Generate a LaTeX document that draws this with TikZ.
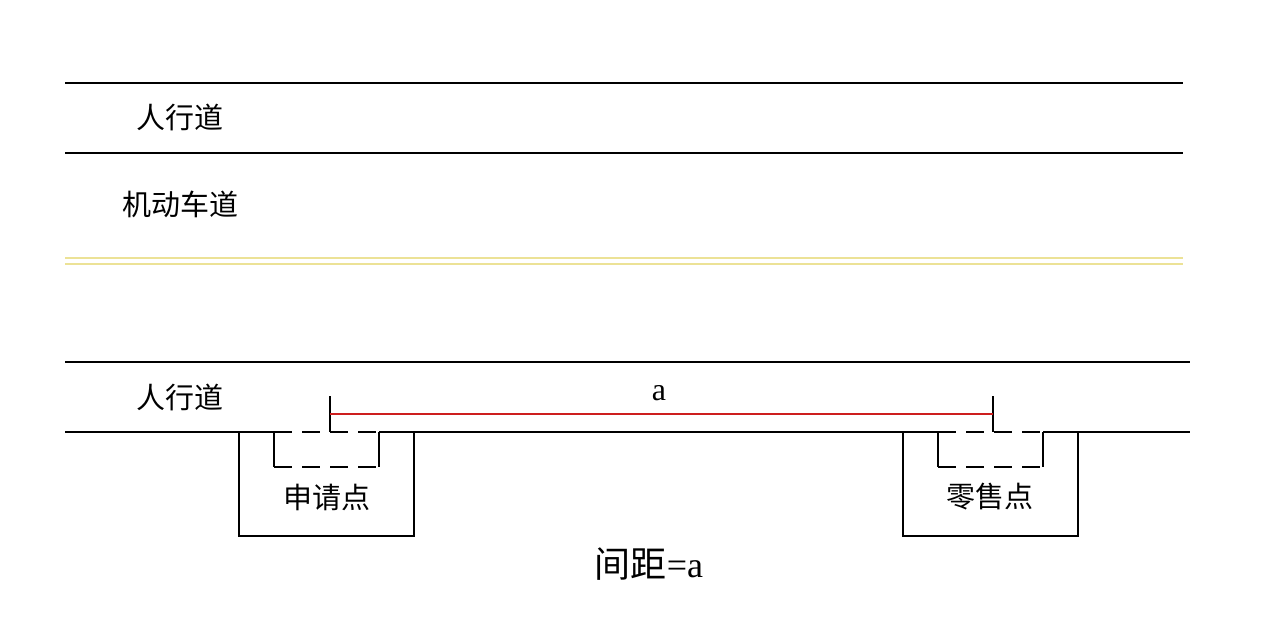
\documentclass[tikz,border=0pt]{standalone}
\usepackage{fontspec}
\newfontfamily\cjk{Noto Sans CJK SC}
\newfontfamily\lat{Liberation Serif}
\definecolor{roadyellow}{RGB}{236,226,150}
\definecolor{gapred}{RGB}{205,30,30}
\tikzset{
  road/.style={line width=2pt,black},
  midline/.style={line width=1.8pt,roadyellow},
  kiosk/.style={line width=2pt,black},
  slot/.style={line width=2pt,black,dash pattern=on 18pt off 10pt},
  lbl/.style={font=\cjk\fontsize{29}{34}\selectfont,inner sep=0pt},
}
\begin{document}
\begin{tikzpicture}[x=1pt,y=-1pt]
        \useasboundingbox (0,0) rectangle (1267,625);

        % road lines
        \draw[road] (65,83) -- (1183,83);
        \draw[road] (65,153) -- (1183,153);
        \draw[midline] (65,258) -- (1183,258);
        \draw[midline] (65,264) -- (1183,264);
        \draw[road] (65,362) -- (1190,362);
        \draw[road] (65,432) -- (274,432);
        \draw[road] (379,432) -- (938,432);
        \draw[road] (1043,432) -- (1190,432);

        % labels
        \node (walkTop) at (180,117) [lbl] {人行道};
        \node (lane) at (180,204) [lbl] {机动车道};
        \node (walkBot) at (180,397) [lbl] {人行道};

        % application point
        \draw[kiosk] (239,432) -- (239,536) -- (414,536) -- (414,432);
        \draw[kiosk] (274,432) -- (274,467);
        \draw[kiosk] (379,432) -- (379,467);
        \draw[slot] (274,432) -- (379,432);
        \draw[slot] (274,467) -- (379,467);
        \node (apply) at (327,497) [lbl] {申请点};

        % retail point
        \draw[kiosk] (903,432) -- (903,536) -- (1078,536) -- (1078,432);
        \draw[kiosk] (938,432) -- (938,467);
        \draw[kiosk] (1043,432) -- (1043,467);
        \draw[slot] (938,432) -- (1043,432);
        \draw[slot] (938,467) -- (1043,467);
        \node (retail) at (990,497) [lbl] {零售点};

        % distance
        \coordinate (P) at (330,414);
        \coordinate (Q) at (993,414);
        \draw[kiosk] (330,396) -- (330,432);
        \draw[kiosk] (993,396) -- (993,432);
        \draw[line width=2pt,gapred] (P) -- (Q);
        \node (a) at (659,393) [font=\lat\fontsize{32}{34}\selectfont,inner sep=0pt] {a};
        \node (note) at (649,564) [font=\lat\fontsize{36}{40}\selectfont,inner sep=0pt] {{\cjk 间距}=a};
    \end{tikzpicture}
\end{document}
